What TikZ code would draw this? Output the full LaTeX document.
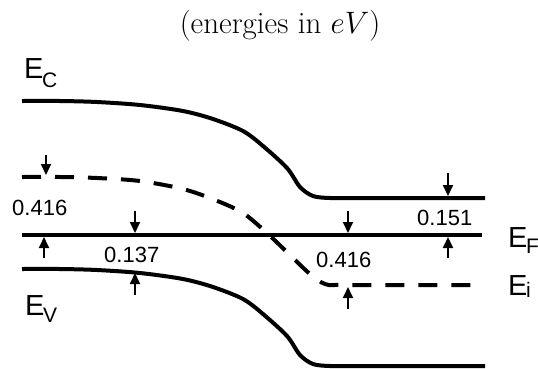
\RequirePackage{fix-cm}
\documentclass[tikz,border=0pt]{standalone}
\usepackage{fontspec}
\setsansfont{Liberation Sans}
\usepackage{tikz}
\usetikzlibrary{arrows.meta}
\newcommand{\lowsub}[2]{\kern-1.5pt\raisebox{-#1pt}{\fontsize{21}{21}\selectfont #2}}

\begin{document}
\begin{tikzpicture}[x=1pt,y=-1pt,
   band/.style={line width=4pt},
   gap/.style={line width=1.9pt,-{Triangle[length=11pt,width=10pt]}},
   val/.style={font=\fontsize{22}{24}\selectfont\sffamily,inner sep=0pt,anchor=base west},
   lvl/.style={font=\fontsize{29}{34}\selectfont\sffamily,inner sep=0pt,anchor=base west}]
  \useasboundingbox (0,0) rectangle (538,368);
  \node[font=\fontsize{31}{36}\selectfont,anchor=base] (title) at (280,33) {(energies in $eV$)};
  % bands
  \draw[band] plot[smooth,tension=0.5] coordinates {(22,101) (60,101) (97,102) (140,105) (183,111)
    (213,119) (243,131) (263,146) (287,168) (300,187) (313,196) (330,198) (360,198) (485,198)};
  \draw[band,shift={(0,168)}] plot[smooth,tension=0.5] coordinates {(22,101) (60,101) (97,102) (140,105) (183,111)
    (213,119) (243,131) (263,146) (287,168) (300,187) (313,196) (330,198) (360,198) (485,198)};
  \draw[band,dash pattern=on 19pt off 14pt] plot[smooth,tension=0.5] coordinates {(22,177) (60,177) (97,178)
    (140,181) (183,189) (215,200) (243,213) (268,234) (293,258) (310,274) (325,284) (345,285) (480,285)};
  \draw[band] (22,235) -- (482,235);
  % labels
  \node[lvl] (ec) at (24,78) {E\lowsub{9}{C}};
  \node[lvl] (ev) at (25,315) {E\lowsub{7}{V}};
  \node[lvl] (ef) at (508,247) {E\lowsub{6}{F}};
  \node[lvl] (ei) at (508,295) {E\lowsub{2}{i}};
  % gaps
  \coordinate (a1) at (46,155);  \coordinate (a2) at (46,175);
  \coordinate (b1) at (44,258);  \coordinate (b2) at (44,237);
  \coordinate (c1) at (135,211); \coordinate (c2) at (135,233);
  \coordinate (d1) at (135,295); \coordinate (d2) at (135,273);
  \coordinate (e1) at (448,173); \coordinate (e2) at (448,196);
  \coordinate (f1) at (448,258); \coordinate (f2) at (448,237);
  \coordinate (g1) at (348,211); \coordinate (g2) at (348,233);
  \coordinate (h1) at (348,309); \coordinate (h2) at (348,287);
  \draw[gap] (a1) -- (a2);
  \draw[gap] (b1) -- (b2);
  \draw[gap] (c1) -- (c2);
  \draw[gap] (d1) -- (d2);
  \draw[gap] (e1) -- (e2);
  \draw[gap] (f1) -- (f2);
  \draw[gap] (g1) -- (g2);
  \draw[gap] (h1) -- (h2);
  \node[val] (v1) at (12,215) {0.416};
  \node[val] (v2) at (104,262) {0.137};
  \node[val] (v3) at (417,225) {0.151};
  \node[val] (v4) at (316,267) {0.416};
\end{tikzpicture}
\end{document}
